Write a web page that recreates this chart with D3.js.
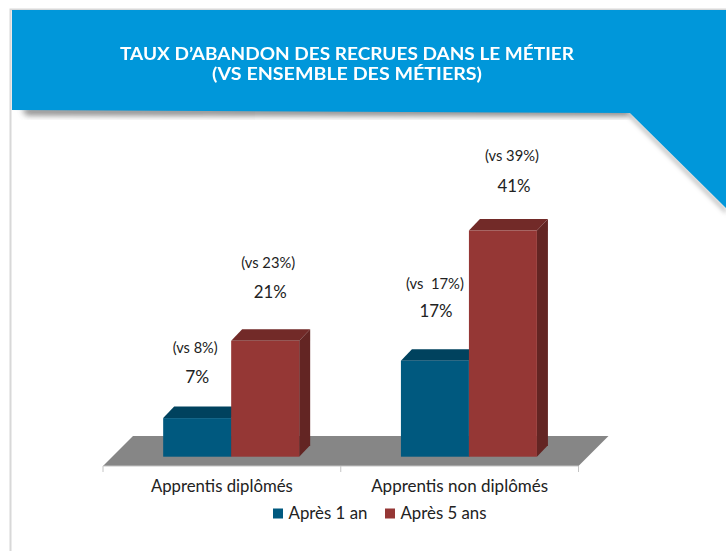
<!DOCTYPE html>
<html><head><meta charset="utf-8">
<script src="https://cdnjs.cloudflare.com/ajax/libs/d3/7.8.5/d3.min.js"></script>
<style>html,body{margin:0;padding:0;background:#fff}svg{display:block}text{font-family:Lato,"Open Sans",sans-serif}</style>
</head><body><div id="c"></div>
<script>
const categories = ["Apprentis diplômés","Apprentis non diplômés"];
const seriesNames = ["Après 1 an","Après 5 ans"];
const after1 = [7,17.4];
const after5 = [21,41];
const compare1 = ["(vs 8%)","(vs  17%)"];
const compare5 = ["(vs 23%)","(vs 39%)"];
const titleLines = ["TAUX D’ABANDON DES RECRUES DANS LE MÉTIER","(VS ENSEMBLE DES MÉTIERS)"];

const svg = d3.select("#c").append("svg").attr("width",726).attr("height",551);
const defs = svg.append("defs");
const f = defs.append("filter").attr("id","sh").attr("x","-5%").attr("y","-50%").attr("width","110%").attr("height","200%");
f.append("feGaussianBlur").attr("stdDeviation",3);
const f3 = defs.append("filter").attr("id","sh2").attr("x","-20%").attr("y","-20%").attr("width","140%").attr("height","140%");
f3.append("feGaussianBlur").attr("stdDeviation",2);
const f2 = defs.append("filter").attr("id","bl");
f2.append("feGaussianBlur").attr("stdDeviation",0.3);

// page frame
svg.append("path").attr("d","M10.5,551V9.5H726").attr("fill","none").attr("stroke","#d8d8d8").attr("stroke-width",2);

// banner shadows + banner
svg.append("path").attr("d","M22,108H630V116L26,115Z").attr("fill","#555").attr("opacity",0.75).attr("filter","url(#sh)");
svg.append("path").attr("d","M630,112L726,208V214L628,116Z").attr("fill","#888").attr("opacity",0.5).attr("filter","url(#sh2)");
svg.append("path").attr("d","M12,10H726V208L630,113L12,110Z").attr("fill","#0097da");

const title = svg.append("g").attr("filter","url(#bl)");
title.selectAll("text").data(titleLines).join("text")
  .attr("x",347).attr("y",(d,i)=>60+i*20).attr("text-anchor","middle")
  .attr("fill","#fff").attr("font-weight",700).attr("font-size",16.5)
  .attr("textLength",(d,i)=>i?270:454).attr("lengthAdjust","spacingAndGlyphs").text(d=>d);

// scales
const x0 = d3.scaleBand().domain(categories).range([103,578.5]);
const x1 = d3.scaleBand().domain(seriesNames).range([0,136]);
const y = d3.scaleLinear().domain([0,41]).range([456.7,230.5]);
const depth = {dx:11,dy:-11.5};
const shiftX = x0.bandwidth()/2 - 136/2 + 9.3;
const floorDepth = {dx:30,dy:-30};
const frontY = 466;

// floor
const fl = x0.range()[0], fr = x0.range()[1];
svg.append("path").attr("d",`M${fl},${frontY}L${fl+floorDepth.dx},${frontY+floorDepth.dy}H${fr+floorDepth.dx}L${fr},${frontY}Z`).attr("fill","#868686");

// axis
const axisG = svg.append("g").attr("transform",`translate(0,${frontY})`).call(d3.axisBottom(x0).tickSize(0).tickPadding(14));
axisG.select(".domain").attr("stroke","#c4c4c4").attr("d",`M${fl},0H${fr}`);
axisG.selectAll(".tick text").attr("font-size",16.5).attr("fill","#222").attr("dy","0.71em")
  .attr("textLength",(d,i)=>i?177:142).attr("lengthAdjust","spacingAndGlyphs");
svg.append("g").selectAll("line").data([fl,(fl+fr)/2,fr]).join("line")
  .attr("x1",d=>d).attr("x2",d=>d).attr("y1",frontY).attr("y2",frontY+6).attr("stroke","#c4c4c4");

// bars
const colors = {
  [seriesNames[0]]:{front:"#00597f",top:"#00425e",side:"#003b52"},
  [seriesNames[1]]:{front:"#953735",top:"#722a28",side:"#632523"}
};
// per-bar nudges of the two hand-placed annotation lines
const nudges = [
  {vx:0,vy:-35,cx:-2,cy:-65,tl:45},
  {vx:5,vy:-43,cx:3,cy:-73,tl:54},
  {vx:1,vy:-44,cx:0,cy:-72,tl:58},
  {vx:11,vy:-38.5,cx:9,cy:-69.5,tl:54}
];
const rows = [];
categories.forEach((c,i)=>{
  rows.push({c,s:seriesNames[0],v:after1[i],cmp:compare1[i],n:nudges[i*2]});
  rows.push({c,s:seriesNames[1],v:after5[i],cmp:compare5[i],n:nudges[i*2+1]});
});
const bars = svg.append("g").selectAll("g").data(rows).join("g");
bars.each(function(d){
  const g = d3.select(this);
  const l = x0(d.c)+shiftX+x1(d.s), w = x1.bandwidth(), t = y(d.v), b = y(0);
  const col = colors[d.s];
  g.append("path").attr("d",`M${l},${t}L${l+depth.dx},${t+depth.dy}H${l+w+depth.dx}L${l+w},${t}Z`).attr("fill",col.top);
  g.append("path").attr("d",`M${l+w},${t}L${l+w+depth.dx},${t+depth.dy}V${b+depth.dy}L${l+w},${b}Z`).attr("fill",col.side);
  g.append("rect").attr("x",l).attr("y",t).attr("width",w).attr("height",b-t).attr("fill",col.front);
});

// labels
const pct = v => Math.floor(v)+"%";
const labels = svg.append("g").selectAll("g").data(rows).join("g")
  .attr("transform",d=>`translate(${x0(d.c)+shiftX+x1(d.s)+x1.bandwidth()/2},${y(d.v)})`);
labels.append("text").attr("x",d=>d.n.vx).attr("y",d=>d.n.vy).attr("text-anchor","middle")
  .attr("font-size",18).attr("fill","#222").attr("textLength",d=>d.v<10?24:33).attr("lengthAdjust","spacingAndGlyphs").text(d=>pct(d.v));
labels.append("text").attr("x",d=>d.n.cx).attr("y",d=>d.n.cy).attr("text-anchor","middle")
  .attr("font-size",15).attr("fill","#222").attr("textLength",d=>d.n.tl).attr("lengthAdjust","spacingAndGlyphs")
  .style("white-space","pre").text(d=>d.cmp);

// legend
const legX = [273,385], legW=[79,86];
const leg = svg.append("g").selectAll("g").data(seriesNames).join("g");
leg.append("rect").attr("x",(d,i)=>legX[i]).attr("y",508.5).attr("width",10).attr("height",10).attr("fill",d=>colors[d].front);
leg.append("text").attr("x",(d,i)=>legX[i]+15.5).attr("y",519).attr("font-size",16.5).attr("fill","#222")
  .attr("textLength",(d,i)=>legW[i]).attr("lengthAdjust","spacingAndGlyphs").text(d=>d);
</script></body></html>
